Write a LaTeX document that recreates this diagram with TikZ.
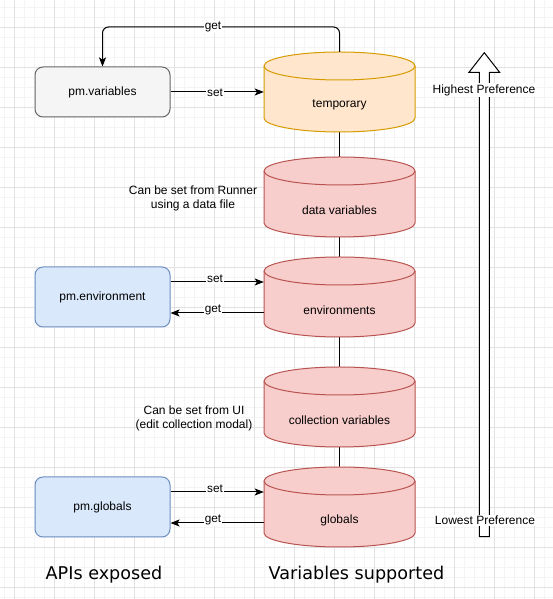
\documentclass[tikz,border=0pt]{standalone}
\usepackage{fontspec}
\setmainfont{Liberation Sans}
\newfontfamily\titlefont{DejaVu Sans}
\usetikzlibrary{arrows.meta}
\definecolor{gridmaj}{HTML}{E2E2E2}
\definecolor{gridmin}{HTML}{F4F4F4}
\definecolor{grayfill}{HTML}{F5F5F5}
\definecolor{graydraw}{HTML}{666666}
\definecolor{bluefill}{HTML}{DAE8FC}
\definecolor{bluedraw}{HTML}{6C8EBF}
\definecolor{redfill}{HTML}{F8CECC}
\definecolor{reddraw}{HTML}{B85450}
\definecolor{orfill}{HTML}{FFE6CC}
\definecolor{ordraw}{HTML}{D79B00}
\newcommand\cylshape[3]{%
  \filldraw[fill=#2,draw=#3,line width=1pt] (264,#1-14) -- (264,#1-66)
    arc[start angle=180,end angle=360,x radius=75.5,y radius=14] -- (415,#1-14)
    arc[start angle=0,end angle=180,x radius=75.5,y radius=14] -- cycle;
  \draw[#3,line width=1pt] (264,#1-14) arc[start angle=180,end angle=360,x radius=75.5,y radius=14];}
\tikzset{
  apibox/.style={rectangle,rounded corners=8pt,line width=1pt,minimum width=135pt,minimum height=60pt,inner sep=0pt,font=\fontsize{12}{14}\selectfont},
  cylnode/.style={rectangle,minimum width=151pt,minimum height=80pt,inner sep=0pt},
  cyltext/.style={font=\fontsize{12}{14}\selectfont,inner sep=0pt},
  conn/.style={line width=1pt,-{Stealth[length=9pt,width=7pt,inset=2pt]}},
  plainline/.style={line width=1pt},
  elabel/.style={fill=white,inner sep=1pt,font=\fontsize{11.8}{13}\selectfont},
  note/.style={align=center,font=\fontsize{12}{14}\selectfont,inner sep=0pt},
  preflabel/.style={fill=white,inner sep=1pt,font=\fontsize{12}{14}\selectfont},
  title/.style={font=\titlefont\fontsize{17.6}{20}\selectfont,inner sep=0pt,anchor=base}
}
\begin{document}
\begin{tikzpicture}[x=1pt,y=1pt]
\useasboundingbox (0,0) rectangle (553,599);
\fill[white] (0,0) rectangle (553,599);
% grid
\foreach \gx in {4,14,...,553} {\draw[gridmin,line width=0.8pt] (\gx,0) -- (\gx,599);}
\foreach \gy in {2,12,...,599} {\draw[gridmin,line width=0.8pt] (0,\gy) -- (553,\gy);}
\foreach \gx in {14,54,...,553} {\draw[gridmaj,line width=0.8pt] (\gx,0) -- (\gx,599);}
\foreach \gy in {12,52,...,599} {\draw[gridmaj,line width=0.8pt] (0,\gy) -- (553,\gy);}

% cylinder nodes (bounds)
\node[cylnode] (tmp) at (339.5,507) {};
\node[cylnode] (data) at (339.5,402) {};
\node[cylnode] (env) at (339.5,302) {};
\node[cylnode] (coll) at (339.5,192) {};
\node[cylnode] (glob) at (339.5,92) {};

% vertical connectors
\draw[plainline] (tmp.south) -- (data.north);
\draw[plainline] (data.south) -- (env.north);
\draw[plainline] (env.south) -- (coll.north);
\draw[plainline] (coll.south) -- (glob.north);

% cylinders
\cylshape{547}{orfill}{ordraw}
\cylshape{442}{redfill}{reddraw}
\cylshape{342}{redfill}{reddraw}
\cylshape{232}{redfill}{reddraw}
\cylshape{132}{redfill}{reddraw}

\node[cyltext] (tmpt) at ([yshift=-13pt]tmp.center) {temporary};
\node[cyltext] (datat) at ([yshift=-13pt]data.center) {data variables};
\node[cyltext] (envt) at ([yshift=-13pt]env.center) {environments};
\node[cyltext] (collt) at ([yshift=-13pt]coll.center) {collection variables};
\node[cyltext] (globt) at ([yshift=-13pt]glob.center) {globals};

% API boxes
\node[apibox,fill=grayfill,draw=graydraw,minimum height=50pt] (pmv) at (102.5,507) {pm.variables};
\node[apibox,fill=bluefill,draw=bluedraw] (pme) at (102.5,302) {pm.environment};
\node[apibox,fill=bluefill,draw=bluedraw] (pmg) at (102.5,92) {pm.globals};

% temporary connectors
\coordinate (g1) at (339.5,572);
\coordinate (g2) at (102.5,572);
\draw[conn,rounded corners=6pt] (tmp.north) -- (g1) -- (g2) -- (pmv.north);
\node[elabel] (getv) at (213,572) {get};
\draw[conn] (pmv.east) -- (tmp.west);
\node[elabel] (setv) at (215,506) {set};

% environment connectors
\draw[conn] ([yshift=15pt]pme.east) -- ([yshift=15pt]env.west);
\node[elabel] (sete) at (215,320) {set};
\draw[conn] ([yshift=-16pt]env.west) -- ([yshift=-16pt]pme.east);
\node[elabel] (gete) at (213,289) {get};

% globals connectors
\draw[conn] ([yshift=15pt]pmg.east) -- ([yshift=15pt]glob.west);
\node[elabel] (setg) at (215,110) {set};
\draw[conn] ([yshift=-16pt]glob.west) -- ([yshift=-16pt]pmg.east);
\node[elabel] (getg) at (213,79) {get};

% notes
\node[note] (n1) at (193,401) {Can be set from Runner\\using a data file};
\node[note] (n2) at (194,181) {Can be set from UI\\(edit collection modal)};

% preference arrow
\filldraw[fill=white,draw=black,line width=1pt,line join=miter]
  (479.3,62.3) -- (479.3,526.7) -- (469,526.7) -- (484.3,546.3) -- (499.6,526.7)
  -- (489.3,526.7) -- (489.3,62.3) -- cycle;
\node[preflabel] (hp) at (484,509) {Highest Preference};
\node[preflabel] (lp) at (485,78.3) {Lowest Preference};

% titles
\node[title] (t1) at (104,19) {APIs exposed};
\node[title] (t2) at (356.5,19) {Variables supported};
\end{tikzpicture}
\end{document}
